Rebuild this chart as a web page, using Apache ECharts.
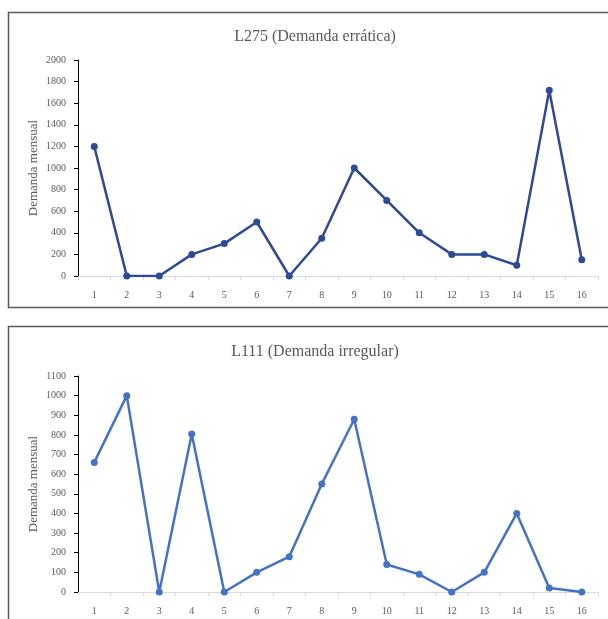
<!DOCTYPE html>
<html><head><meta charset="utf-8">
<script src="https://cdn.jsdelivr.net/npm/echarts@6/dist/echarts.min.js"></script>
<style>html,body{margin:0;padding:0;background:#fff}#c{width:608px;height:619px}</style>
</head><body><div id="c"></div>
<script>
const months = ['1','2','3','4','5','6','7','8','9','10','11','12','13','14','15','16'];
const titleTop = 'L275 (Demanda errática)';
const titleBottom = 'L111 (Demanda irregular)';
const yName = 'Demanda mensual';
const demandL275 = [1200, 0, 0, 200, 300, 500, 0, 350, 1000, 700, 400, 200, 200, 100, 1720, 150];
const demandL111 = [660, 1000, 0, 805, 0, 100, 180, 550, 880, 140, 90, 0, 100, 400, 20, 0];

const FONT = 'Liberation Serif';
const GRAY = '#595959';
function xAxis(gi){
  return {type:'category', gridIndex:gi, data:months, boundaryGap:true,
    axisLine:{lineStyle:{color:'#d9d9d9',width:1}},
    axisTick:{show:true,alignWithLabel:false,length:4,lineStyle:{color:'#d9d9d9'}},
    axisLabel:{color:GRAY,fontFamily:FONT,fontSize:10,margin:14},
    splitLine:{show:false}};
}
function yAxis(gi,max,interval){
  return {type:'value', gridIndex:gi, min:0, max:max, interval:interval,
    name:yName, nameLocation:'middle', nameGap:38, nameRotate:90, nameMoveOverlap:false,
    nameTextStyle:{color:GRAY,fontFamily:FONT,fontSize:13},
    axisLine:{show:true,lineStyle:{color:'#000',width:1}},
    axisTick:{show:true,length:4,lineStyle:{color:'#000'}},
    axisLabel:{color:GRAY,fontFamily:FONT,fontSize:10,margin:12,formatter:v=>String(v)},
    splitLine:{show:false}};
}
const chart = echarts.init(document.getElementById('c'));
chart.setOption({
  animation:false,
  backgroundColor:'#fff',
  graphic:[
    {type:'rect',shape:{x:8.5,y:12.5,width:640,height:295},style:{fill:'none',stroke:'#595959',lineWidth:1.5},z:-1},
    {type:'rect',shape:{x:8.5,y:326.5,width:640,height:320},style:{fill:'none',stroke:'#595959',lineWidth:1.5},z:-1}
  ],
  title:[
    {text:titleTop,left:310,top:24,textAlign:'center',textStyle:{fontFamily:FONT,fontSize:16,fontWeight:'normal',color:GRAY}},
    {text:titleBottom,left:310,top:339,textAlign:'center',textStyle:{fontFamily:FONT,fontSize:16,fontWeight:'normal',color:GRAY}}
  ],
  grid:[
    {left:78,right:10,top:60,height:216},
    {left:78,right:10,top:376,height:216}
  ],
  xAxis:[xAxis(0),xAxis(1)],
  yAxis:[yAxis(0,2000,200),yAxis(1,1100,100)],
  series:[
    {type:'line',xAxisIndex:0,yAxisIndex:0,data:demandL275,symbol:'circle',symbolSize:7,
     lineStyle:{color:'#2E4A94',width:2.5},itemStyle:{color:'#2E4A94'}},
    {type:'line',xAxisIndex:1,yAxisIndex:1,data:demandL111,symbol:'circle',symbolSize:7,
     lineStyle:{color:'#4472C4',width:2.5},itemStyle:{color:'#4472C4'}}
  ]
});
</script></body></html>
